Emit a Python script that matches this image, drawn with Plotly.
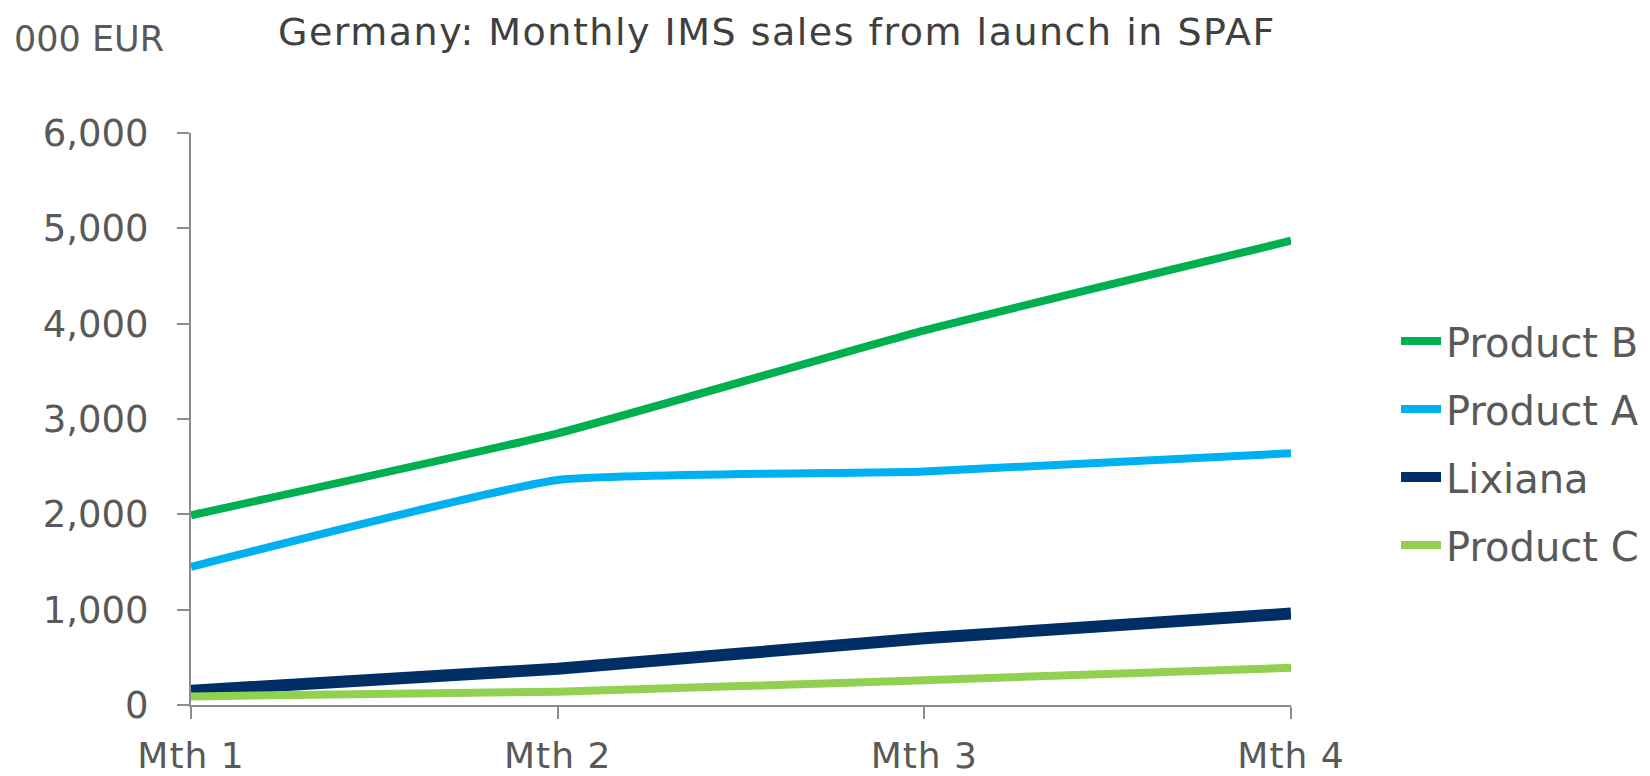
import plotly.graph_objects as go

months = ["Mth 1", "Mth 2", "Mth 3", "Mth 4"]
product_b = [1990, 2850, 3930, 4870]
product_a = [1450, 2360, 2450, 2640]
lixiana = [150, 380, 700, 960]
product_c = [90, 140, 260, 390]

series = [
    ("Product B", product_b, "#00B050", 8),
    ("Product A", product_a, "#00B0F0", 8),
    ("Lixiana", lixiana, "#002F65", 12),
    ("Product C", product_c, "#92D050", 8),
]

FONT = "DejaVu Sans"
GRAY = "#595959"

fig = go.Figure()
for i, (name, vals, color, w) in enumerate(series):
    fig.add_trace(go.Scatter(
        x=months, y=vals, name=name, mode="lines",
        line=dict(color=color, width=w, shape="spline", smoothing=0.4),
        legendgroup=f"g{i}",
    ))

fig.update_layout(
    width=1650, height=776,
    margin=dict(l=183, r=367, t=125, b=79),
    plot_bgcolor="white", paper_bgcolor="white",
    font=dict(family=FONT, color=GRAY, size=32),
    showlegend=True,
    legend=dict(
        x=1.0955, xref="paper", xanchor="left", y=0.458, yanchor="middle",
        font=dict(size=40, color=GRAY, family=FONT),
        tracegroupgap=13, itemwidth=40,
        bgcolor="rgba(0,0,0,0)",
    ),
    xaxis=dict(
        type="category", range=[0, 3], automargin=False,
        showline=True, linecolor="#8C8C8C", linewidth=2,
        ticks="outside", ticklen=12, tickcolor="#8C8C8C", tickwidth=1.5,
        showgrid=False, zeroline=False,
        tickfont=dict(size=36, color=GRAY, family=FONT),
        ticklabelstandoff=6,
        ticktext=[f'<span style="letter-spacing:1px">{m}</span>' for m in months],
        tickvals=months,
    ),
    yaxis=dict(
        range=[0, 6000], dtick=1000, tickformat=",", automargin=False,
        showline=True, linecolor="#8C8C8C", linewidth=2,
        ticks="outside", ticklen=12, tickcolor="#8C8C8C", tickwidth=1.5,
        showgrid=False, zeroline=False,
        tickfont=dict(size=37, color=GRAY, family=FONT),
        ticklabelstandoff=21,
    ),
)

fig.add_annotation(
    text='<span style="letter-spacing:1.5px">Germany: Monthly IMS sales from launch in SPAF</span>',
    xref="paper", yref="paper", x=0.533, y=1.0, yshift=101,
    xanchor="center", yanchor="middle", showarrow=False,
    font=dict(size=38, color="#404040", family=FONT),
)
fig.add_annotation(
    text="000 EUR",
    xref="paper", yref="paper", x=0, xshift=-179, y=1.0, yshift=94,
    xanchor="left", yanchor="middle", showarrow=False,
    font=dict(size=35, color=GRAY, family=FONT),
)

fig.write_html("out.html")
